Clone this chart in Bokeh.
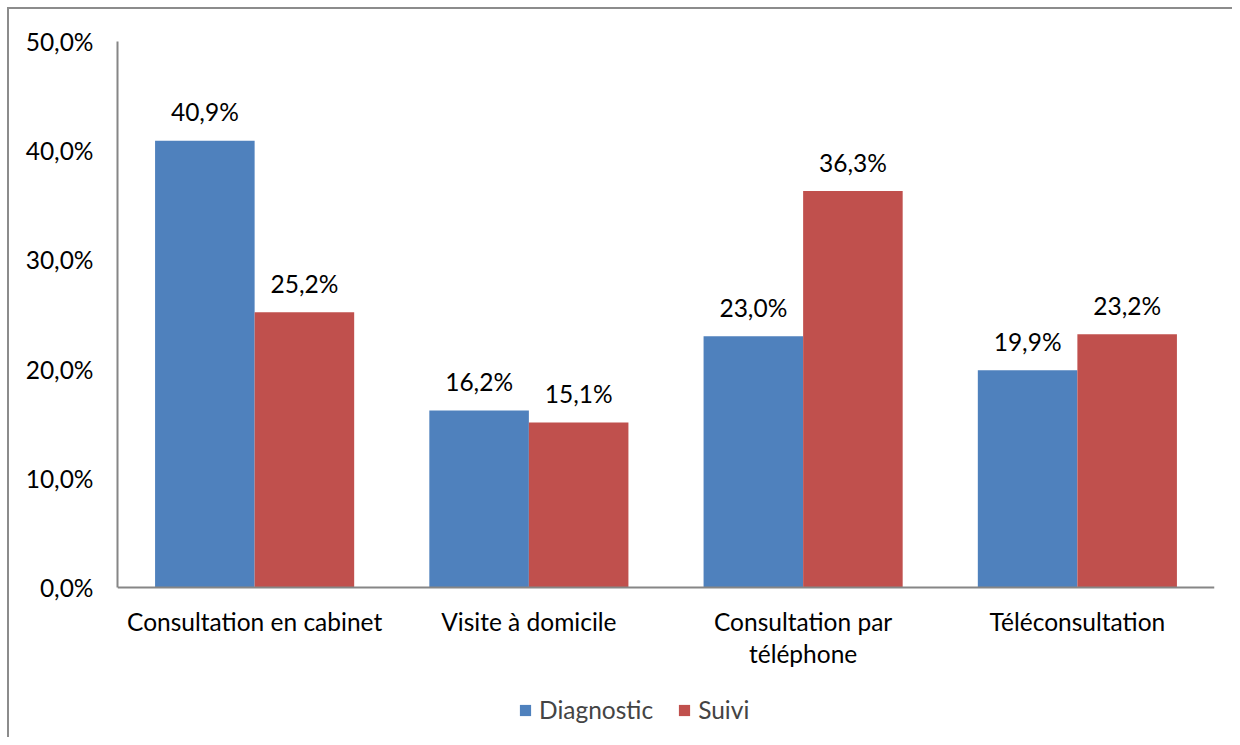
from bokeh.plotting import figure
from bokeh.models import ColumnDataSource, FactorRange, FixedTicker, Legend, LegendItem, Span
from bokeh.transform import dodge
from bokeh.core.properties import value
from bokeh.embed import file_html
from bokeh.resources import INLINE

categories = ["Consultation en cabinet", "Visite à domicile", "Consultation par\ntéléphone", "Téléconsultation"]
diagnostic = [40.9, 16.2, 23.0, 19.9]
suivi = [25.2, 15.1, 36.3, 23.2]
y_ticks = [0, 10, 20, 30, 40, 50]
y_tick_labels = ["0,0%", "10,0%", "20,0%", "30,0%", "40,0%", "50,0%"]

FONT = "Lato"
FS = "24.5px"
BLUE = "#4F81BD"
RED = "#C0504D"
AXIS = "#868686"

def fmt(v):
    return f"{v:.1f}".replace(".", ",") + "%"

src = ColumnDataSource(dict(
    cat=categories,
    zero=[0] * len(categories),
    diag=diagnostic,
    suivi=suivi,
    diag_lbl=[fmt(v) for v in diagnostic],
    suivi_lbl=[fmt(v) for v in suivi],
))

p = figure(width=1225, height=730, x_range=FactorRange(*categories, range_padding=0),
           y_range=(-13.92, 50), output_backend="svg", toolbar_location=None,
           min_border_left=108, min_border_right=20, min_border_top=32, min_border_bottom=0,
           margin=(7, 0, 0, 7))
p.styles = {"border-left": "2px solid #8c8c8c", "border-top": "2px solid #8c8c8c"}
p.outline_line_color = None
p.xgrid.grid_line_color = None
p.ygrid.grid_line_color = None
p.xaxis.visible = False

W = 0.363
OFF = 0.1815
r1 = p.vbar(x=dodge("cat", -OFF, range=p.x_range), top="diag", width=W, source=src,
            fill_color=BLUE, line_color=None)
r2 = p.vbar(x=dodge("cat", OFF, range=p.x_range), top="suivi", width=W, source=src,
            fill_color=RED, line_color=None)

p.add_layout(Span(location=0, dimension="width", line_color=AXIS, line_width=2))

p.text(x=dodge("cat", -OFF, range=p.x_range), y="diag", text="diag_lbl", source=src,
       text_align="center", text_baseline="alphabetic", y_offset=-29,
       text_font=value(FONT), text_font_size=FS, text_color="#000000")
p.text(x=dodge("cat", OFF, range=p.x_range), y="suivi", text="suivi_lbl", source=src,
       text_align="center", text_baseline="alphabetic", y_offset=-29,
       text_font=value(FONT), text_font_size=FS, text_color="#000000")

# category labels (x axis)
p.text(x="cat", y="zero", text="cat", source=src, text_align="center", text_baseline="top",
       y_offset=20, text_line_height=1.1,
       text_font=value(FONT), text_font_size=FS, text_color="#000000")

p.yaxis.ticker = FixedTicker(ticks=y_ticks)
p.yaxis.bounds = (0, 50)
p.yaxis.major_label_overrides = {t: l for t, l in zip(y_ticks, y_tick_labels)}
ax = p.yaxis[0]
ax.axis_line_color = AXIS
ax.axis_line_width = 2
ax.major_tick_line_color = None
ax.minor_tick_line_color = None
ax.major_label_text_font = FONT
ax.major_label_text_font_size = FS
ax.major_label_text_color = "#000000"
ax.major_label_standoff = 18

legend = Legend(items=[LegendItem(label="Diagnostic", renderers=[r1]),
                       LegendItem(label="Suivi", renderers=[r2])],
                orientation="horizontal", location=(401, 15),
                border_line_color=None, background_fill_alpha=0,
                label_text_font=FONT, label_text_font_size=FS,
                glyph_width=14, glyph_height=14, spacing=24, padding=0, margin=0,
                label_standoff=7)
p.add_layout(legend, "center")

open("out.html", "w").write(file_html(p, INLINE))
